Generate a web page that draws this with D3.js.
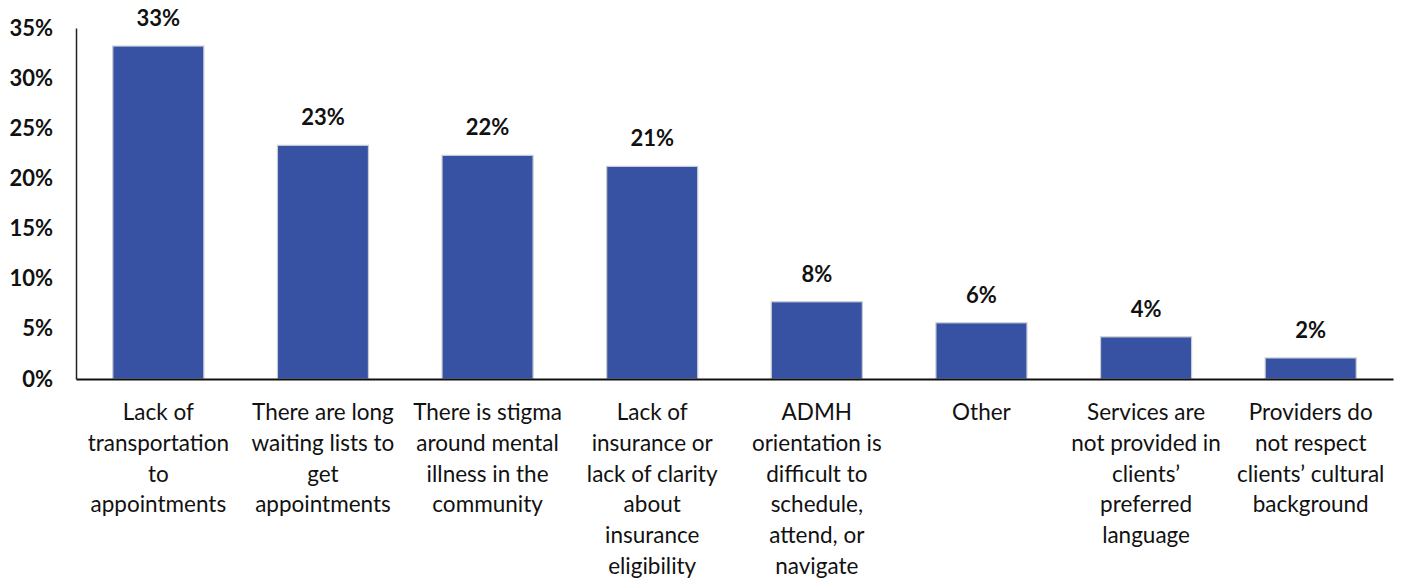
<!DOCTYPE html>
<html>
<head>
<meta charset="utf-8">
<script src="https://cdn.jsdelivr.net/npm/d3@7"></script>
<style>
  html, body { margin: 0; padding: 0; background: #ffffff; }
  svg { display: block; }
  text { font-family: Lato, "Open Sans", sans-serif; fill: #111; }
</style>
</head>
<body>
<svg id="chart" width="1403" height="583"></svg>
<script>
const categories = [
  "Lack of|transportation|to|appointments",
  "There are long|waiting lists to|get|appointments",
  "There is stigma|around mental|illness in the|community",
  "Lack of|insurance or|lack of clarity|about|insurance|eligibility",
  "ADMH|orientation is|difficult to|schedule,|attend, or|navigate",
  "Other",
  "Services are|not provided in|clients’|preferred|language",
  "Providers do|not respect|clients’ cultural|background"
];
const values = [33.2, 23.3, 22.3, 21.2, 7.7, 5.6, 4.2, 2.1];
const valueLabels = ["33%", "23%", "22%", "21%", "8%", "6%", "4%", "2%"];
const yTicks = [0, 5, 10, 15, 20, 25, 30, 35];

const svg = d3.select("#chart");
const margin = { left: 76, right: 10, top: 28, bottom: 204 };
const x = d3.scaleBand().domain(d3.range(categories.length)).range([margin.left, 1393]).paddingInner(0.447).paddingOuter(0.2235);
const y = d3.scaleLinear().domain([0, 35]).range([379, margin.top]);

// bars
svg.append("g").selectAll("rect").data(values).join("rect")
  .attr("x", (d, i) => x(i))
  .attr("y", d => y(d))
  .attr("width", x.bandwidth())
  .attr("height", d => y(0) - y(d))
  .attr("fill", "#3852a3")
  .attr("stroke", "#c9ccd4")
  .attr("stroke-width", 1.2);

// value labels
svg.append("g").selectAll("text").data(values).join("text")
  .attr("x", (d, i) => x(i) + x.bandwidth() / 2)
  .attr("y", d => y(d) - 20)
  .attr("text-anchor", "middle")
  .style("font-size", "22px")
  .style("font-weight", "bold")
  .text((d, i) => valueLabels[i]);

// y axis
const yAxis = d3.axisLeft(y).tickValues(yTicks).tickSize(0).tickPadding(23).tickFormat(d => d + "%");
const gy = svg.append("g").attr("transform", `translate(${margin.left},0)`).call(yAxis);
gy.select(".domain").attr("stroke", "#222").attr("stroke-width", 1.5);
gy.selectAll("text").style("font-size", "22px").style("font-family", "Lato, sans-serif").attr("fill", "#111").attr("font-weight", "bold");

// x axis
const xAxis = d3.axisBottom(x).tickSize(0).tickFormat("");
const gx = svg.append("g").attr("transform", `translate(0,${y(0)})`).call(xAxis);
gx.select(".domain").attr("stroke", "#111").attr("stroke-width", 2.2);

// category labels
const lab = svg.append("g").selectAll("text").data(categories).join("text")
  .attr("text-anchor", "middle")
  .style("font-size", "22.5px")
  .attr("transform", (d, i) => `translate(${x(i) + x.bandwidth() / 2},420)`);
lab.selectAll("tspan").data(d => d.split("|")).join("tspan")
  .attr("x", 0)
  .attr("dy", (d, j) => j === 0 ? 0 : 30.8)
  .text(d => d);
</script>
</body>
</html>
